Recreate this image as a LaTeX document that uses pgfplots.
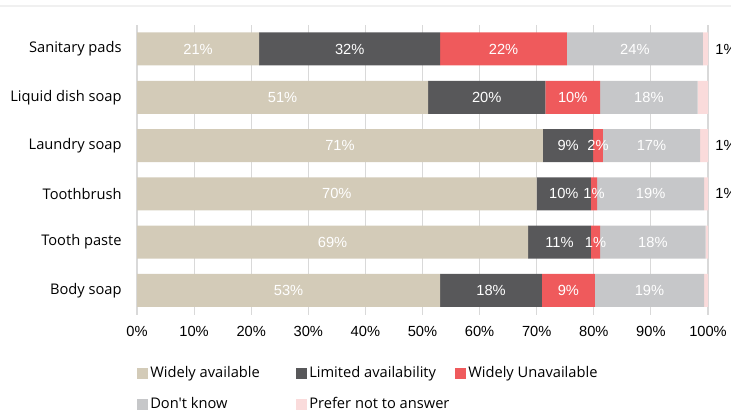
\documentclass[border=0pt]{standalone}
\usepackage{pgfplots}
\pgfplotsset{compat=1.18}
\usepackage{pgfplotstable}
\usepackage{fontspec}
\setmainfont{Liberation Sans}
\newfontfamily\seg{Open Sans}
\definecolor{cA}{HTML}{D3CBB8}
\definecolor{cB}{HTML}{58585A}
\definecolor{cC}{HTML}{EF5A5C}
\definecolor{cD}{HTML}{C6C7C9}
\definecolor{cE}{HTML}{FADBDB}
\definecolor{gridc}{HTML}{D9D9D9}
\pgfplotstableread[col sep=comma]{
idx,name,wa,la,wu,dk,pn,lwa,lla,lwu,ldk
0,Body soap,53.1,17.8,9.3,19.1,0.7,53,18,9,19
1,Tooth paste,68.5,11.0,1.6,18.5,0.4,69,11,1,18
2,Toothbrush,70.0,9.5,1.1,18.7,0.7,70,10,1,19
3,Laundry soap,71.1,8.8,1.7,17.0,1.4,71,9,2,17
4,Liquid dish soap,51.0,20.5,9.6,17.1,1.8,51,20,10,18
5,Sanitary pads,21.4,31.7,22.2,23.8,0.9,21,32,22,24
}\data
\pgfplotstablecreatecol[create col/expr={\thisrow{wa}/2}]{c1}\data
\pgfplotstablecreatecol[create col/expr={\thisrow{wa}+\thisrow{la}/2}]{c2}\data
\pgfplotstablecreatecol[create col/expr={\thisrow{wa}+\thisrow{la}+\thisrow{wu}/2}]{c3}\data
\pgfplotstablecreatecol[create col/expr={\thisrow{wa}+\thisrow{la}+\thisrow{wu}+\thisrow{dk}/2}]{c4}\data
\begin{document}
\begin{tikzpicture}
\path[use as bounding box] (0,0) rectangle (548.25pt,-314.25pt);
\draw[color=black!6, line width=1.5pt] (0,-4.5pt) -- (548.25pt,-4.5pt);
\begin{axis}[
  at={(102.75pt,-18.6pt)}, anchor=north west,
  scale only axis, width=428.25pt, height=217.35pt,
  xbar stacked, bar width=24.75pt,
  xmin=0, xmax=100, ymin=-0.5, ymax=5.5,
  axis line style={draw=none},
  xmajorgrids, major grid style={gridc, line width=0.8pt},
  xtick={0,10,...,100},
  xticklabel={\pgfmathprintnumber{\tick}\%},
  /pgf/number format/assume math mode=true,
  xticklabel style={font=\fontsize{11}{13}\selectfont, yshift=-5.5pt},
  ytick=data, yticklabels from table={\data}{name},
  yticklabel style={font=\seg\fontsize{11}{13}\selectfont, xshift=-8pt},
  major tick length=0pt,
  legend image code/.code={\fill[#1] (0pt,-4.1pt) rectangle (8.25pt,4.1pt);},
  legend columns=3,
  legend cell align=left,
  legend style={at={(axis description cs:-0.007,-0.162)}, anchor=north west, draw=none,
    font=\seg\fontsize{11}{13}\selectfont, row sep=10.5pt, column sep=0pt,
    nodes={inner sep=1.5pt}},
]
\addplot[fill=cA, draw=none] table[x=wa, y=idx] {\data};
\addlegendentry{\makebox[108pt][l]{Widely available}}
\addplot[fill=cB, draw=none] table[x=la, y=idx] {\data};
\addlegendentry{\makebox[108pt][l]{Limited availability}}
\addplot[fill=cC, draw=none] table[x=wu, y=idx] {\data};
\addlegendentry{\makebox[108pt][l]{Widely Unavailable}}
\addplot[fill=cD, draw=none] table[x=dk, y=idx] {\data};
\addlegendentry{\makebox[108pt][l]{Don't know}}
\addplot[fill=cE, draw=none] table[x=pn, y=idx] {\data};
\addlegendentry{\makebox[108pt][l]{Prefer not to answer}}
\end{axis}
\begin{axis}[
  at={(102.75pt,-18.6pt)}, anchor=north west,
  scale only axis, width=428.25pt, height=217.35pt,
  xmin=0, xmax=100, ymin=-0.5, ymax=5.5,
  axis lines=none, ticks=none, clip=false,
  /pgf/number format/assume math mode=true,
  point meta=explicit,
  nodes near coords={\pgfmathprintnumber{\pgfplotspointmeta}\%},
  every node near coord/.append style={anchor=center, text=white, font=\fontsize{11}{13}\selectfont},
]
\addplot[draw=none, mark=none] table[x=c1, y=idx, meta=lwa] {\data};
\addplot[draw=none, mark=none] table[x=c2, y=idx, meta=lla] {\data};
\addplot[draw=none, mark=none] table[x=c3, y=idx, meta=lwu] {\data};
\addplot[draw=none, mark=none] table[x=c4, y=idx, meta=ldk] {\data};
\addplot[draw=none, mark=none,
  every node near coord/.append style={anchor=west, text=black, xshift=2pt}]
  coordinates {(100,5) [1] (100,3) [1] (100,2) [1]};
\end{axis}
\end{tikzpicture}
\end{document}
